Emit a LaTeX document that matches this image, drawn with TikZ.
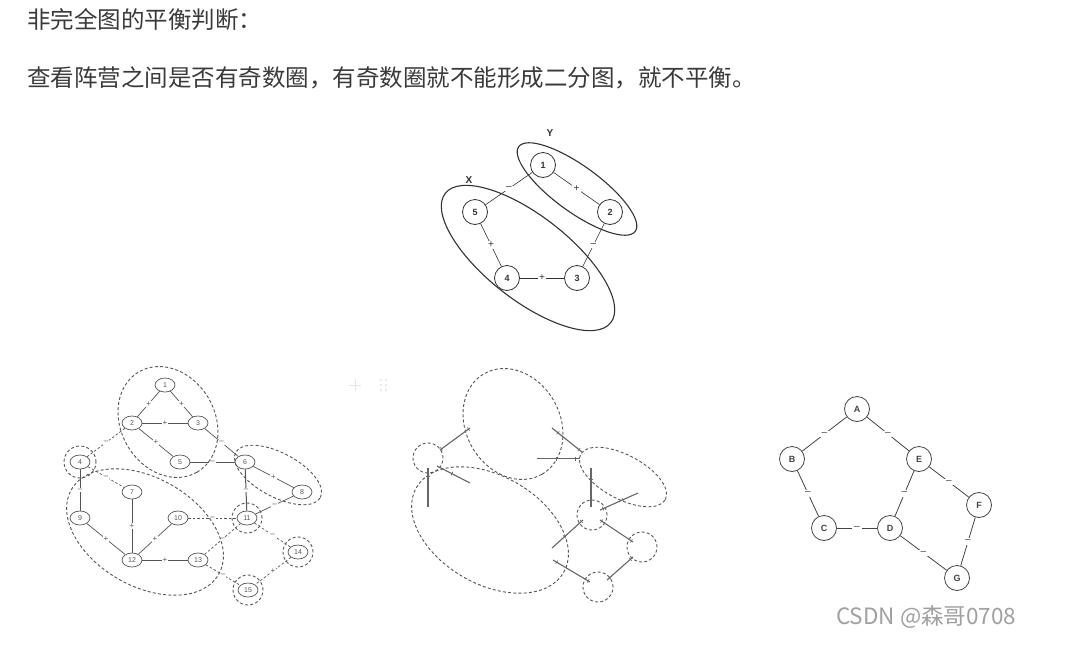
\documentclass[tikz,border=0pt]{standalone}
\usepackage{fontspec}
\setmainfont{Liberation Sans}
\newfontfamily\cjk{Noto Sans CJK SC}
\usetikzlibrary{shapes.geometric}
\definecolor{txt}{HTML}{3A3A3A}
\definecolor{p1c}{HTML}{333333}
\definecolor{p2c}{HTML}{555555}
\definecolor{grpc}{HTML}{555555}
\definecolor{segc}{HTML}{666666}
\definecolor{p4c}{HTML}{444444}
\definecolor{p4bg}{HTML}{FFFFFF}
\definecolor{wm}{HTML}{A0A0A0}
\definecolor{faint}{HTML}{E4E4E4}
\newcommand\tr{\rule{0.6pt}{4pt}}
\begin{document}
\begin{tikzpicture}[x=1pt,y=-1pt,
  p1n/.style={circle,draw=p1c,line width=0.8pt,minimum size=25pt,inner sep=0pt,font=\fontsize{9}{9}\selectfont\bfseries,text=p1c},
  p1e/.style={draw=p1c,line width=0.6pt},
  p1s/.style={fill=white,inner sep=1.5pt,font=\fontsize{10}{10}\selectfont,text=p1c},
  p1g/.style={draw=p1c,line width=1.1pt},
  p2n/.style={ellipse,draw=p2c,line width=0.7pt,minimum width=20pt,minimum height=14pt,inner sep=0pt,font=\fontsize{7}{7}\selectfont,text=p2c},
  p2e/.style={draw=p2c,line width=0.7pt},
  p2d/.style={p2e,dash pattern=on 2.5pt off 2pt},
  p2s/.style={fill=white,inner sep=1pt,font=\fontsize{8}{8}\selectfont,text=p2c},
  grp/.style={draw=grpc,line width=0.9pt,dash pattern=on 3pt off 2.2pt},
  seg/.style={draw=segc,line width=1.1pt},
  tk/.style={pos=#1,sloped,inner sep=0pt,text=segc},
  p4n/.style={circle,draw=p4c,line width=0.8pt,fill=white,minimum size=25pt,inner sep=0pt,font=\fontsize{9}{9}\selectfont\bfseries,text=p4c},
  p4e/.style={draw=p4c,line width=0.8pt},
  p4s/.style={fill=p4bg,inner sep=2pt,font=\fontsize{10}{10}\selectfont,text=p4c}
]
\useasboundingbox (0,0) rectangle (1071,651);
\fill[white] (0,0) rectangle (1071,651);

% ---------- heading ----------
\node[anchor=west,text=txt,inner sep=0pt] (h1) at (27,20) {\cjk\fontsize{23.5}{23.5}\selectfont 非完全图的平衡判断：};
\node[anchor=west,text=txt,inner sep=0pt] (h2) at (27,78) {\cjk\fontsize{23.5}{23.5}\selectfont 查看阵营之间是否有奇数圈，有奇数圈就不能形成二分图，就不平衡。};

% ---------- panel 1 ----------
\node[p1n] (a1) at (543,165) {1};
\node[p1n] (a2) at (610,212) {2};
\node[p1n] (a5) at (475,212) {5};
\node[p1n] (a4) at (507,278) {4};
\node[p1n] (a3) at (577,278) {3};
\draw[p1e] (a1) -- node[p1s]{+} (a2);
\draw[p1e] (a1) -- node[p1s]{–} (a5);
\draw[p1e] (a2) -- node[p1s]{–} (a3);
\draw[p1e] (a5) -- node[p1s]{+} (a4);
\draw[p1e] (a4) -- node[p1s]{+} (a3);
\draw[p1g,rotate around={-36:(577,189)}] (577,189) ellipse [x radius=72pt,y radius=23pt];
\draw[p1g,rotate around={-38:(528,258)}] (528,258) ellipse [x radius=105pt,y radius=42pt];
\node[font=\fontsize{10}{10}\selectfont\bfseries,text=p1c] (ly) at (550,133) {Y};
\node[font=\fontsize{10}{10}\selectfont\bfseries,text=p1c] (lx) at (469,180) {X};

% ---------- panel 2 ----------
\node[p2n] (b1) at (165,385) {1};
\node[p2n] (b2) at (132,423) {2};
\node[p2n] (b3) at (198,423) {3};
\node[p2n] (b5) at (180,462) {5};
\node[p2n] (b4) at (80,462) {4};
\node[p2n] (b6) at (245,462) {6};
\node[p2n] (b8) at (302,492) {8};
\node[p2n] (b7) at (132,492) {7};
\node[p2n] (b9) at (80,518) {9};
\node[p2n] (b10) at (178,518) {10};
\node[p2n] (b11) at (247,518) {11};
\node[p2n] (b12) at (132,560) {12};
\node[p2n] (b13) at (198,560) {13};
\node[p2n] (b14) at (298,552) {14};
\node[p2n] (b15) at (248,590) {15};
\draw[p2e] (b1) -- node[p2s]{+} (b2);
\draw[p2e] (b1) -- node[p2s]{+} (b3);
\draw[p2e] (b2) -- node[p2s]{+} (b3);
\draw[p2e] (b2) -- node[p2s]{+} (b5);
\draw[p2d] (b2) -- node[p2s]{–} (b4);
\draw[p2e] (b3) -- node[p2s]{–} (b6);
\draw[p2e] (b5) -- node[p2s]{–} (b6);
\draw[p2e,line width=1pt] (b4) -- node[p2s]{–} (b9);
\draw[p2d] (b4) -- node[p2s]{–} (b7);
\draw[p2e] (b6) -- node[p2s]{+} (b8);
\draw[p2e,line width=1pt] (b6) -- node[p2s]{–} (b11);
\draw[p2e] (b8) -- node[p2s]{–} (b11);
\draw[p2e,line width=1pt] (b7) -- node[p2s]{+} (b12);
\draw[p2e] (b9) -- node[p2s]{+} (b12);
\draw[p2e] (b10) -- node[p2s]{+} (b12);
\draw[p2d] (b10) -- node[p2s]{–} (b11);
\draw[p2e] (b12) -- node[p2s]{+} (b13);
\draw[p2d] (b13) -- node[p2s]{–} (b11);
\draw[p2d] (b13) -- node[p2s]{–} (b15);
\draw[p2d] (b11) -- node[p2s]{–} (b14);
\draw[p2d] (b14) -- node[p2s]{+} (b15);
\draw[grp,rotate around={-60:(168,422)}] (168,422) ellipse [x radius=58pt,y radius=47pt];
\draw[grp,rotate around={-28:(278,475)}] (278,475) ellipse [x radius=48pt,y radius=22pt];
\draw[grp,rotate around={-30:(145,532)}] (145,532) ellipse [x radius=85pt,y radius=54pt];
\draw[grp] (80,462) circle [radius=16pt];
\draw[grp] (247,518) circle [radius=15pt];
\draw[grp] (298,552) circle [radius=15pt];
\draw[grp] (248,590) circle [radius=15pt];

% faint editor marks
\draw[faint,line width=0.8pt] (349,385) -- (361,385) (355,379) -- (355,391);
\foreach \dx in {0,5} \foreach \dy in {0,5,10} \fill[faint] (381+\dx,380+\dy) circle [radius=1.2pt];

% ---------- panel 3 ----------
\draw[grp,rotate around={-60:(513,424)}] (513,424) ellipse [x radius=58pt,y radius=47pt];
\draw[grp,rotate around={-28:(623,477)}] (623,477) ellipse [x radius=48pt,y radius=22pt];
\draw[grp,rotate around={-30:(490,530)}] (490,530) ellipse [x radius=85pt,y radius=54pt];
\draw[grp] (428,458) circle [radius=15pt];
\draw[grp] (592,515) circle [radius=15pt];
\draw[grp] (642,547) circle [radius=15pt];
\draw[grp] (598,587) circle [radius=15pt];
\coordinate (sa1) at (440,450); \coordinate (sa2) at (470,428);
\coordinate (sb1) at (428,468); \coordinate (sb2) at (428,507);
\coordinate (sc1) at (437,466); \coordinate (sc2) at (470,483);
\coordinate (sd1) at (552,428); \coordinate (sd2) at (582,452);
\coordinate (se1) at (537,459); \coordinate (se2) at (580,459);
\coordinate (sf1) at (591,468); \coordinate (sf2) at (591,507);
\coordinate (sg1) at (600,510); \coordinate (sg2) at (638,493);
\coordinate (sh1) at (552,548); \coordinate (sh2) at (583,520);
\coordinate (si1) at (600,520); \coordinate (si2) at (633,542);
\coordinate (sj1) at (553,560); \coordinate (sj2) at (590,582);
\coordinate (sk1) at (607,580); \coordinate (sk2) at (633,557);
\draw[seg] (sa1) -- node[tk=.05]{\tr} node[tk=.95]{\tr} (sa2);
\draw[seg] (sb1) -- node[tk=.2]{\tr} (sb2);
\draw[seg] (sc1) -- node[tk=.45]{\tr} (sc2);
\draw[seg] (sd1) -- node[tk=.2]{\tr} node[tk=.9]{\tr} (sd2);
\draw[seg,double=white,double distance=0.4pt,line width=0.6pt] (se1) -- node[tk=.45]{\tr} node[tk=.9]{\tr} (se2);
\draw[seg] (sf1) -- node[tk=.3]{\tr} (sf2);
\draw[seg] (sg1) -- node[tk=.08]{\tr} node[tk=.6]{\tr} (sg2);
\draw[seg] (sh1) -- node[tk=.4]{\tr} node[tk=.95]{\tr} (sh2);
\draw[seg] (si1) -- node[tk=.05]{\tr} node[tk=.95]{\tr} (si2);
\draw[seg] (sj1) -- node[tk=.1]{\tr} node[tk=.95]{\tr} (sj2);
\draw[seg] (sk1) -- node[tk=.1]{\tr} node[tk=.9]{\tr} (sk2);

% ---------- panel 4 ----------
\node[p4n] (cA) at (857,409) {A};
\node[p4n] (cB) at (792,459) {B};
\node[p4n] (cE) at (919,459) {E};
\node[p4n] (cC) at (824,528) {C};
\node[p4n] (cD) at (890,528) {D};
\node[p4n] (cF) at (979,505) {F};
\node[p4n] (cG) at (957,578) {G};
\draw[p4e] (cA) -- node[p4s]{–} (cB);
\draw[p4e] (cA) -- node[p4s]{–} (cE);
\draw[p4e] (cB) -- node[p4s]{–} (cC);
\draw[p4e] (cC) -- node[p4s]{–} (cD);
\draw[p4e] (cD) -- node[p4s]{–} (cE);
\draw[p4e] (cE) -- node[p4s]{–} (cF);
\draw[p4e] (cF) -- node[p4s]{–} (cG);
\draw[p4e] (cD) -- node[p4s]{–} (cG);

% watermark
\node[anchor=west,text=wm,inner sep=0pt] (wmk) at (836,617) {\cjk\fontsize{22.5}{22.5}\selectfont CSDN @森哥0708};
\end{tikzpicture}
\end{document}
